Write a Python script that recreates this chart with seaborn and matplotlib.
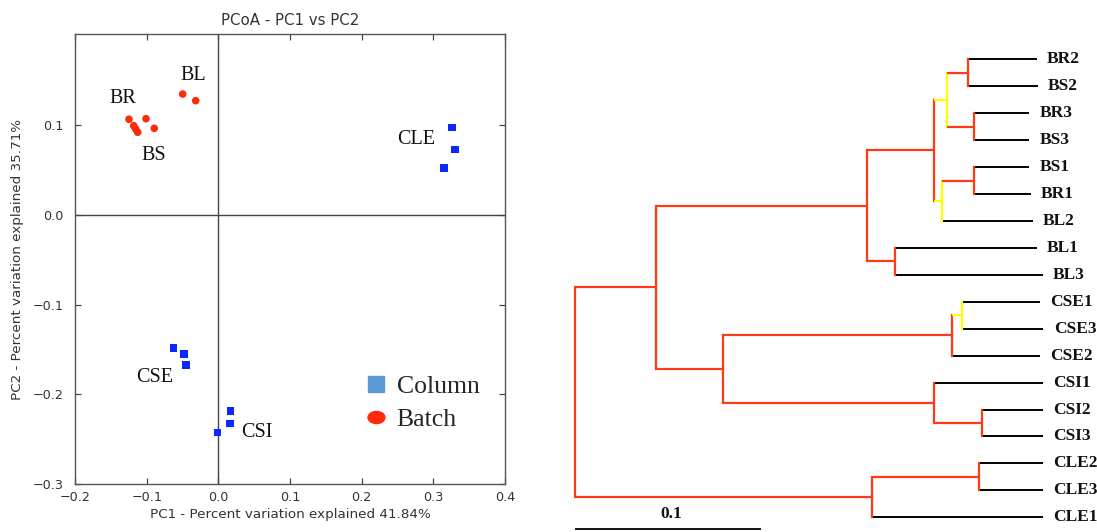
import numpy as np
import pandas as pd
import matplotlib
matplotlib.use("Agg")
import matplotlib.pyplot as plt
import seaborn as sns
from matplotlib.lines import Line2D
from matplotlib.path import Path

# ---------------- PCoA scores ----------------
batch_pc1 = [-0.1247, -0.1181, -0.1153, -0.1125, -0.1009, -0.0894, -0.0497, -0.0316]
batch_pc2 = [0.1064, 0.0992, 0.0955, 0.0919, 0.1070, 0.0963, 0.1345, 0.1271]
column_pc1 = [0.3264, 0.3306, 0.3149, -0.0623, -0.0483, -0.0451, 0.0172, 0.0163, -0.0009]
column_pc2 = [0.0974, 0.0725, 0.0524, -0.1485, -0.1552, -0.1677, -0.2187, -0.2324, -0.2428]

cluster_names = ["BR", "BL", "BS", "CLE", "CSE", "CSI"]
cluster_label_x = [-0.1526, -0.0525, -0.107, 0.2489, -0.1149, 0.0312]
cluster_label_y = [0.129, 0.1557, 0.0658, 0.0833, -0.1811, -0.2428]

x_ticks = [-0.2, -0.1, 0.0, 0.1, 0.2, 0.3, 0.4]
y_ticks = [-0.3, -0.2, -0.1, 0.0, 0.1]

# ---------------- Cluster tree ----------------
leaf_names = ["BR2", "BS2", "BR3", "BS3", "BS1", "BR1", "BL2", "BL1", "BL3",
              "CSE1", "CSE3", "CSE2", "CSI1", "CSI2", "CSI3", "CLE2", "CLE3", "CLE1"]
leaf_dist = [0.2482, 0.2488, 0.2442, 0.2442, 0.2442, 0.2450, 0.2461, 0.2482, 0.2515,
             0.2500, 0.2518, 0.2500, 0.2515, 0.2515, 0.2515, 0.2515, 0.2515, 0.2515]

node_names = ["root", "n_all", "n_batch", "n_brbs", "n_brbs4", "n_br2bs2", "n_br3bs3",
              "n_bs1br1bl2", "n_bs1br1", "n_bl13", "n_col", "n_cse", "n_cse13",
              "n_csi", "n_csi23", "n_cle", "n_cle23"]
node_children = [
    ["n_all", "n_cle"],
    ["n_batch", "n_col"],
    ["n_brbs", "n_bl13"],
    ["n_brbs4", "n_bs1br1bl2"],
    ["n_br2bs2", "n_br3bs3"],
    ["BR2", "BS2"],
    ["BR3", "BS3"],
    ["n_bs1br1", "BL2"],
    ["BS1", "BR1"],
    ["BL1", "BL3"],
    ["n_cse", "n_csi"],
    ["n_cse13", "CSE2"],
    ["CSE1", "CSE3"],
    ["CSI1", "n_csi23"],
    ["CSI2", "CSI3"],
    ["n_cle23", "CLE1"],
    ["CLE2", "CLE3"],
]
node_dist = [0.0, 0.0435, 0.1572, 0.1932, 0.2002, 0.2111, 0.2147, 0.1975, 0.2147,
             0.1720, 0.0795, 0.2028, 0.2078, 0.1931, 0.2189, 0.1599, 0.2170]
node_support = ["high", "high", "high", "high", "low", "high", "high", "low", "high",
                "high", "high", "high", "low", "high", "high", "high", "high"]
scale_length = 0.1

# ---------------- Style ----------------
sns.set_style("ticks")
plt.rcParams["font.family"] = ["DejaVu Sans"]
SERIF = ["Liberation Serif", "DejaVu Serif"]

RED_PT = "#ff2a0a"
BLUE_PT = "#0a28ff"
LEGEND_BLUE = "#5b9bd5"
TREE_COLORS = {"high": "#ff3a14", "low": "#ffff00"}
LEAF_COLOR = "#000000"
GRAY = "#444444"
TXT = "#333333"

W, H = 1097, 532
fig = plt.figure(figsize=(W / 100, H / 100), dpi=100)

# ================= PCoA panel =================
ax = fig.add_axes([75 / W, 1 - 484 / H, 430 / W, 450 / H])

df = pd.DataFrame({
    "pc1": batch_pc1 + column_pc1,
    "pc2": batch_pc2 + column_pc2,
    "group": ["Batch"] * len(batch_pc1) + ["Column"] * len(column_pc1),
})

ax.axhline(0, color=GRAY, lw=1.0, zorder=1)
ax.axvline(0, color=GRAY, lw=1.0, zorder=1)

sns.scatterplot(data=df, x="pc1", y="pc2", hue="group", style="group",
                markers={"Batch": "o", "Column": "s"},
                palette={"Batch": RED_PT, "Column": BLUE_PT},
                s=30, linewidth=0, legend=False, ax=ax, zorder=3)

for name, lx, ly in zip(cluster_names, cluster_label_x, cluster_label_y):
    ax.text(lx, ly, name, family=SERIF, fontsize=14.5, color="#111111",
            ha="left", va="center")

ax.set_xlim(-0.2, 0.4)
ax.set_ylim(-0.3, 0.2014)
ax.set_xticks(x_ticks)
ax.set_yticks(y_ticks)
ax.tick_params(direction="in", top=True, right=True, length=4.5, width=0.9,
               color=GRAY, labelsize=9.2, labelcolor=TXT)
ax.tick_params(axis="x", pad=5)
ax.tick_params(axis="y", pad=8.5)
for sp in ax.spines.values():
    sp.set_color("#555555")
    sp.set_linewidth(1.0)

ax.set_title("PCoA - PC1 vs PC2", fontsize=10.8, color=TXT, pad=6.5)
ax.set_xlabel("PC1 - Percent variation explained 41.84%", fontsize=9.7, color=TXT)
ax.set_ylabel("PC2 - Percent variation explained 35.71%", fontsize=9.7, color=TXT)
ax.xaxis.set_label_coords(0.5, -0.054)
ax.yaxis.set_label_coords(-0.118, 0.5)

circ = Path.unit_circle()
ellipse = Path(circ.vertices * np.array([1.4, 1.0]), circ.codes)
handles = [
    Line2D([], [], marker="s", linestyle="none", color=LEGEND_BLUE, markersize=12),
    Line2D([], [], marker=ellipse, linestyle="none", color=RED_PT, markersize=12.2),
]
ax.legend(handles, ["Column", "Batch"], loc="center left",
          bbox_to_anchor=(340 / W, 1 - 403 / H), bbox_transform=fig.transFigure,
          frameon=False, prop={"family": SERIF, "size": 18.5},
          handlelength=1.0, handletextpad=0.3, labelspacing=0.36, borderpad=0.4)

# ================= Tree panel =================
ax2 = fig.add_axes([560 / W, 0, (W - 560) / W, (H - 40) / H])
ax2.set_xlim(-15 / 1860, (W - 575) / 1860)
ax2.set_ylim(17.546, -0.716)
ax2.axis("off")

children = dict(zip(node_names, node_children))
depth = dict(zip(node_names, node_dist))
depth.update(zip(leaf_names, leaf_dist))
support = dict(zip(node_names, node_support))
ypos = {name: float(i) for i, name in enumerate(leaf_names)}


def place(name):
    if name in ypos:
        return ypos[name]
    ys = [place(c) for c in children[name]]
    ypos[name] = (min(ys) + max(ys)) / 2
    return ypos[name]


place("root")

for name in node_names:
    col = TREE_COLORS[support[name]]
    ys = [ypos[c] for c in children[name]]
    ax2.plot([depth[name], depth[name]], [min(ys), max(ys)], color=col,
             lw=1.6, solid_capstyle="projecting", zorder=2)
    for c in children[name]:
        if c in support:
            ccol, lw, z = TREE_COLORS[support[c]], 1.6, 2
        else:
            ccol, lw, z = LEAF_COLOR, 1.4, 1
        ax2.plot([depth[name], depth[c]], [ypos[c], ypos[c]], color=ccol,
                 lw=lw, solid_capstyle="butt", zorder=z)

for name, d in zip(leaf_names, leaf_dist):
    ax2.text(d + 0.0056, ypos[name], name, family=SERIF, fontweight="bold",
             fontsize=12.5, ha="left", va="center", color="#111111", clip_on=False)

# scale bar
ax2.plot([0, scale_length], [17.446, 17.446], color="black", lw=1.3,
         solid_capstyle="butt", clip_on=False)
ax2.text(scale_length / 2 + 0.002, 16.88, f"{scale_length:g}", family=SERIF,
         fontweight="bold", fontsize=12.5, ha="center", va="center", color="#111111")

fig.savefig("out.png", dpi=100)
